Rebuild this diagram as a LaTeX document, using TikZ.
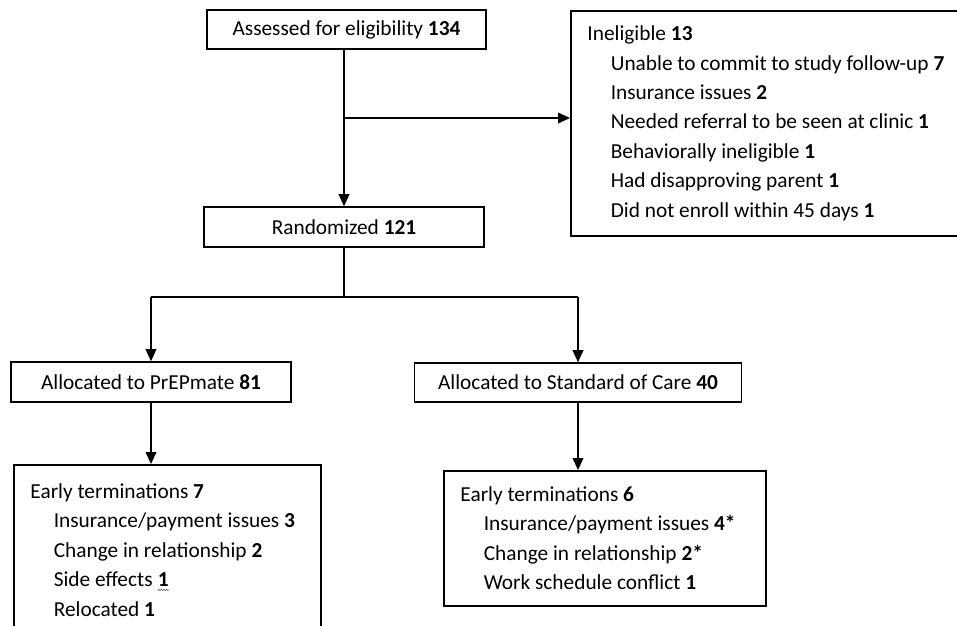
\documentclass[tikz,border=0pt]{standalone}
\usepackage{fontspec}
\setmainfont{Carlito}
\usetikzlibrary{arrows.meta,decorations.pathmorphing}

\tikzset{
	box/.style={draw, line width=1.2pt, inner sep=0pt, font=\fontsize{16}{19}\selectfont},
	listbox/.style={box, anchor=north west, align=flush left, inner xsep=12.5pt, font=\fontsize{16}{22.1}\selectfont},
	flow/.style={line width=1.2pt, -{Triangle[length=9pt, width=8pt]}},
	link/.style={line width=1.2pt},
	squig/.style={decorate, decoration={snake, amplitude=0.5pt, segment length=2pt}, line width=0.4pt, black!70},
}
\newcommand{\sub}{\hspace*{17.5pt}}
\newcommand{\spellmark}[1]{\tikz[baseline=(w.base), x=1pt, y=1pt]{\node[draw=none, inner sep=0pt, minimum size=0pt, text width=, anchor=center] (w) {#1};
	\draw[squig] ([yshift=-2.5pt]w.base west) -- ([yshift=-2.5pt]w.base east);}}

\begin{document}
\begin{tikzpicture}[x=0.75pt, y=-0.75pt]
	%%%%% FRAME %%%%%
	\useasboundingbox (0, 0) rectangle (957, 625);
	\clip (0, 0) rectangle (957, 625);
	
	%%%%% BOXES %%%%%
	\node[box, minimum width=209.25pt, minimum height=29.25pt] (assess) at (346.5, 29.5) {Assessed for eligibility \textbf{134}};
	\node[box, minimum width=210pt, minimum height=30pt] (rand) at (344, 227) {Randomized \textbf{121}};
	
	\node[listbox, text width=278.75pt, minimum height=168.75pt] (inel) at (570, 10) {Ineligible \textbf{13}\\
		\sub Unable to commit to study follow-up \textbf{7}\\
		\sub Insurance issues \textbf{2}\\
		\sub Needed referral to be seen at clinic \textbf{1}\\
		\sub Behaviorally ineligible \textbf{1}\\
		\sub Had disapproving parent \textbf{1}\\
		\sub Did not enroll within 45 days \textbf{1}};
	
	\node[box, minimum width=210pt, minimum height=30pt] (prep) at (151, 382) {Allocated to PrEPmate \textbf{81}};
	\node[box, minimum width=245.25pt, minimum height=29.25pt] (soc) at (578, 382.5) {Allocated to Standard of Care \textbf{40}};
	
	\node[listbox, text width=205.25pt, minimum height=127.5pt] (etl) at (13, 464) {Early terminations \textbf{7}\\
		\sub Insurance/payment issues \textbf{3}\\
		\sub Change in relationship \textbf{2}\\
		\sub Side effects \spellmark{\textbf{1}}\\
		\sub Relocated \textbf{1}};
	\node[listbox, text width=216.5pt, minimum height=101.25pt] (etr) at (443, 470) {Early terminations \textbf{6}\\
		\sub Insurance/payment issues \textbf{4*}\\
		\sub Change in relationship \textbf{2*}\\
		\sub Work schedule conflict \textbf{1}};
	
	%%%%% CONNECTORS %%%%%
	\coordinate (side) at (344, 118);
	\coordinate (split) at (344, 297);
	
	\draw[flow] (rand.north |- assess.south) -- (rand.north);
	\draw[flow] (side) -- (side -| inel.west);
	
	\draw[link] (rand.south) -- (split);
	\draw[link] (split -| prep.north) -- (split -| soc.north);
	\draw[flow] (split -| prep.north) -- (prep.north);
	\draw[flow] (split -| soc.north) -- (soc.north);
	
	\draw[flow] (prep.south) -- (prep.south |- etl.north);
	\draw[flow] (soc.south) -- (soc.south |- etr.north);
\end{tikzpicture}
\end{document}
